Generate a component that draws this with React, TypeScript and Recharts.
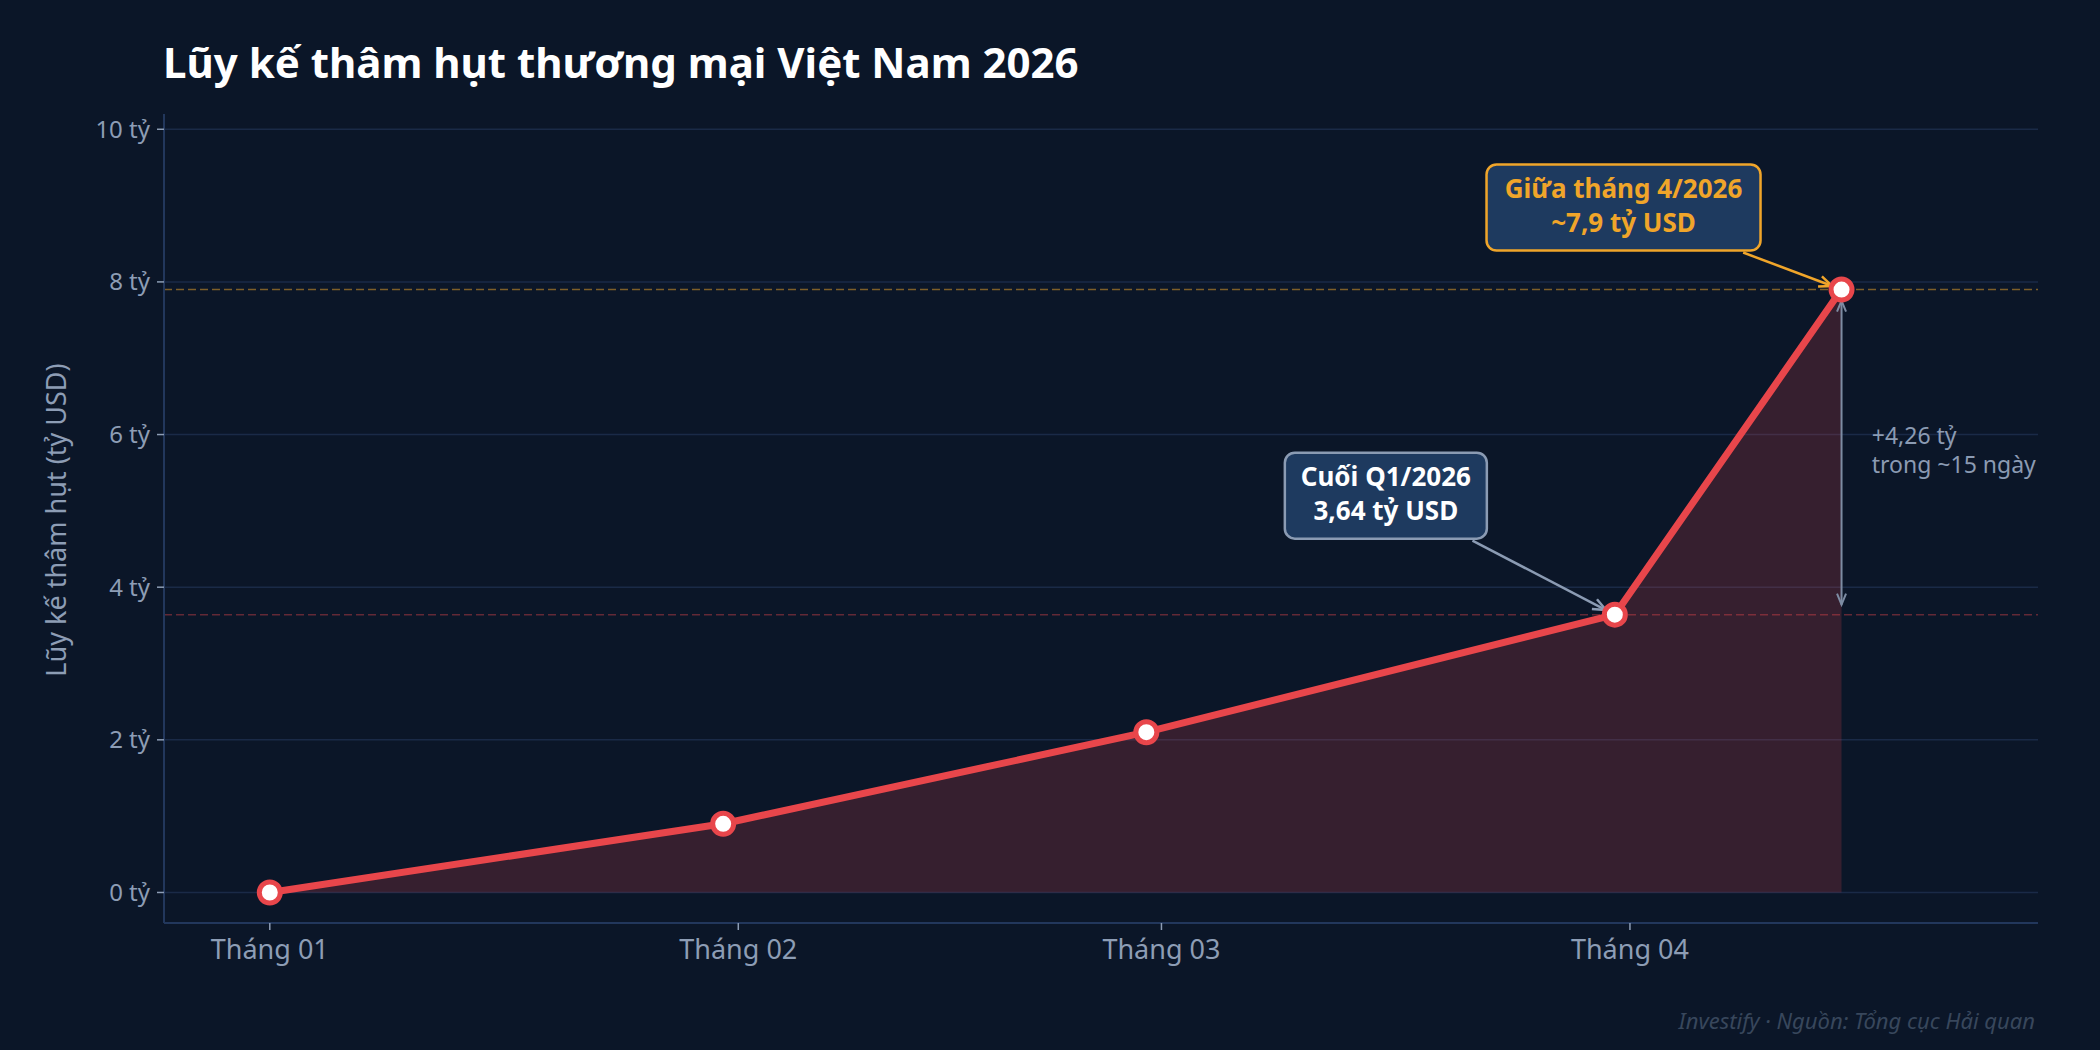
import React from "react";
import { Area, CartesianGrid, ComposedChart, ReferenceDot, ReferenceLine, XAxis, YAxis } from "recharts";

// points: day index counted from 01/01/2026
const pointDates = ["01/01/2026", "31/01/2026", "28/02/2026", "31/03/2026", "15/04/2026"];
const pointDays = [0, 30, 58, 89, 104];
const deficit = [0, 0.9, 2.1, 3.64, 7.9];

const monthTicks = [0, 31, 59, 90];
const monthLabels = ["Tháng 01", "Tháng 02", "Tháng 03", "Tháng 04"];
const yTicks = [0, 2, 4, 6, 8, 10];

const q1Day = 89;
const q1Value = 3.64;
const aprDay = 104;
const aprValue = 7.9;

const data = pointDays.map((day, i) => ({ day, date: pointDates[i], value: deficit[i] }));

const BG = "#0b1628";
const RED = "#e8464b";
const ORANGE = "#f0a52a";
const GRAY = "#8b9bb3";
const TICK = "#8d9db5";
const BOX = "#1e3a5f";
const FONT = "'Noto Sans', 'DejaVu Sans', sans-serif";

function headPath(x1: number, y1: number, x2: number, y2: number, len: number, half: number) {
  const d = Math.hypot(x2 - x1, y2 - y1);
  const ux = (x2 - x1) / d;
  const uy = (y2 - y1) / d;
  const bx = x2 - ux * len;
  const by = y2 - uy * len;
  return `M${bx - uy * half},${by + ux * half} L${x2},${y2} L${bx + uy * half},${by - ux * half}`;
}

type CalloutOpts = { lines: string[]; border: string; color: string; width: number; dx: number; dy: number };

function callout({ lines, border, color, width, dx, dy }: CalloutOpts) {
  return (props: any) => {
    const { cx, cy } = props;
    const h = 86;
    const bcx = cx + dx;
    const top = cy + dy;
    const bcy = top + h / 2;
    const vx = cx - bcx;
    const vy = cy - bcy;
    const t = (h / 2 + 2) / vy;
    const sx = bcx + vx * t;
    const sy = bcy + vy * t;
    const d = Math.hypot(vx, vy);
    const ex = cx - (vx / d) * 10;
    const ey = cy - (vy / d) * 10;
    return (
      <g>
        <line x1={sx} y1={sy} x2={ex} y2={ey} stroke={border} strokeWidth={2.5} />
        <path d={headPath(sx, sy, ex, ey, 13, 5.5)} fill="none" stroke={border} strokeWidth={2.5} />
        <rect x={bcx - width / 2} y={top} width={width} height={h} rx={10} fill={BOX} stroke={border} strokeWidth={2.5} />
        {lines.map((ln, i) => (
          <text key={i} x={bcx} y={top + 33.5 + i * 33.5} textAnchor="middle" fill={color} fontFamily={FONT} fontWeight={700} fontSize={26}>
            {ln}
          </text>
        ))}
      </g>
    );
  };
}

function DoubleArrow(props: any) {
  const { x1, y1, x2, y2 } = props;
  const top = Math.min(y1, y2) + 11;
  const bot = Math.max(y1, y2) - 10;
  return (
    <g>
      <line x1={x1} y1={top} x2={x2} y2={bot} stroke="#7d8ca3" strokeWidth={2} />
      <path d={headPath(x1, bot, x1, top, 11, 4.5)} fill="none" stroke="#7d8ca3" strokeWidth={2} />
      <path d={headPath(x1, top, x1, bot, 11, 4.5)} fill="none" stroke="#7d8ca3" strokeWidth={2} />
    </g>
  );
}

function GapNote(props: any) {
  const { cx, cy } = props;
  return (
    <g>
      <text x={cx} y={cy - 8} fill={GRAY} fontFamily={FONT} fontSize={23}>+4,26 tỷ</text>
      <text x={cx} y={cy + 21} fill={GRAY} fontFamily={FONT} fontSize={23}>trong ~15 ngày</text>
    </g>
  );
}

function PointDot(props: any) {
  const { cx, cy, index } = props;
  if (cx == null || cy == null) return null;
  return <circle key={`dot-${index}`} cx={cx} cy={cy} r={10.5} fill="#ffffff" fillOpacity={1} stroke={RED} strokeWidth={5} />;
}

export default function App() {
  return (
    <div style={{ position: "absolute", left: 0, top: 0, width: 2100, height: 1050, background: BG, overflow: "hidden" }}>
      <ComposedChart width={2100} height={1050} data={data} margin={{ top: 114, right: 62, bottom: 67, left: 64 }}>
        <CartesianGrid vertical={false} stroke="#1a2a47" strokeWidth={1.5} syncWithTicks />
        <XAxis
          type="number"
          dataKey="day"
          domain={[-7, 117]}
          ticks={monthTicks}
          interval={0}
          allowDataOverflow
          height={60}
          tickFormatter={(v: number) => monthLabels[monthTicks.indexOf(v)]}
          tick={{ fill: TICK, fontSize: 27, fontFamily: FONT }}
          tickSize={7}
          tickMargin={10}
          tickLine={{ stroke: TICK, strokeWidth: 1.5 }}
          axisLine={{ stroke: "#22375c", strokeWidth: 2 }}
        />
        <YAxis
          type="number"
          domain={[-0.4, 10.2]}
          ticks={yTicks}
          interval={0}
          allowDataOverflow
          width={100}
          tickFormatter={(v: number) => `${v} tỷ`}
          tick={{ fill: TICK, fontSize: 24, fontFamily: FONT }}
          tickSize={7}
          tickMargin={7}
          tickLine={{ stroke: TICK, strokeWidth: 1.5 }}
          axisLine={{ stroke: "#22375c", strokeWidth: 2 }}
        />
        <ReferenceLine y={aprValue} stroke={ORANGE} strokeOpacity={0.5} strokeWidth={1.5} strokeDasharray="8 4" />
        <ReferenceLine y={q1Value} stroke={RED} strokeOpacity={0.4} strokeWidth={1.5} strokeDasharray="8 4" />
        <ReferenceLine
          segment={[{ x: aprDay, y: aprValue }, { x: aprDay, y: q1Value }]}
          stroke="#7d8ca3"
          shape={DoubleArrow}
        />
        <ReferenceDot x={aprDay + 2} y={(aprValue + q1Value) / 2} r={0} shape={GapNote} />
        <ReferenceDot
          x={q1Day}
          y={q1Value}
          r={0}
          shape={callout({ lines: ["Cuối Q1/2026", "3,64 tỷ USD"], border: GRAY, color: "#ffffff", width: 202, dx: -229, dy: -162 })}
        />
        <ReferenceDot
          x={aprDay}
          y={aprValue}
          r={0}
          shape={callout({ lines: ["Giữa tháng 4/2026", "~7,9 tỷ USD"], border: ORANGE, color: ORANGE, width: 274, dx: -218, dy: -125 })}
        />
        <Area
          type="linear"
          dataKey="value"
          baseValue={0}
          stroke={RED}
          strokeWidth={7}
          strokeLinejoin="round"
          fill={RED}
          fillOpacity={0.2}
          dot={PointDot}
          activeDot={false}
          isAnimationActive={false}
        />
      </ComposedChart>
      <svg width={2100} height={1050} style={{ position: "absolute", left: 0, top: 0, pointerEvents: "none" }}>
        <text x={163} y={78} fill="#ffffff" fontFamily={FONT} fontWeight={700} fontSize={42}>
          Lũy kế thâm hụt thương mại Việt Nam 2026
        </text>
        <text x={66} y={520} transform="rotate(-90 66 520)" textAnchor="middle" fill={TICK} fontFamily={FONT} fontSize={27}>
          Lũy kế thâm hụt (tỷ USD)
        </text>
        <text x={2035} y={1029} textAnchor="end" fill="#38475c" fontFamily={FONT} fontStyle="italic" fontSize={22}>
          Investify · Nguồn: Tổng cục Hải quan
        </text>
      </svg>
    </div>
  );
}
